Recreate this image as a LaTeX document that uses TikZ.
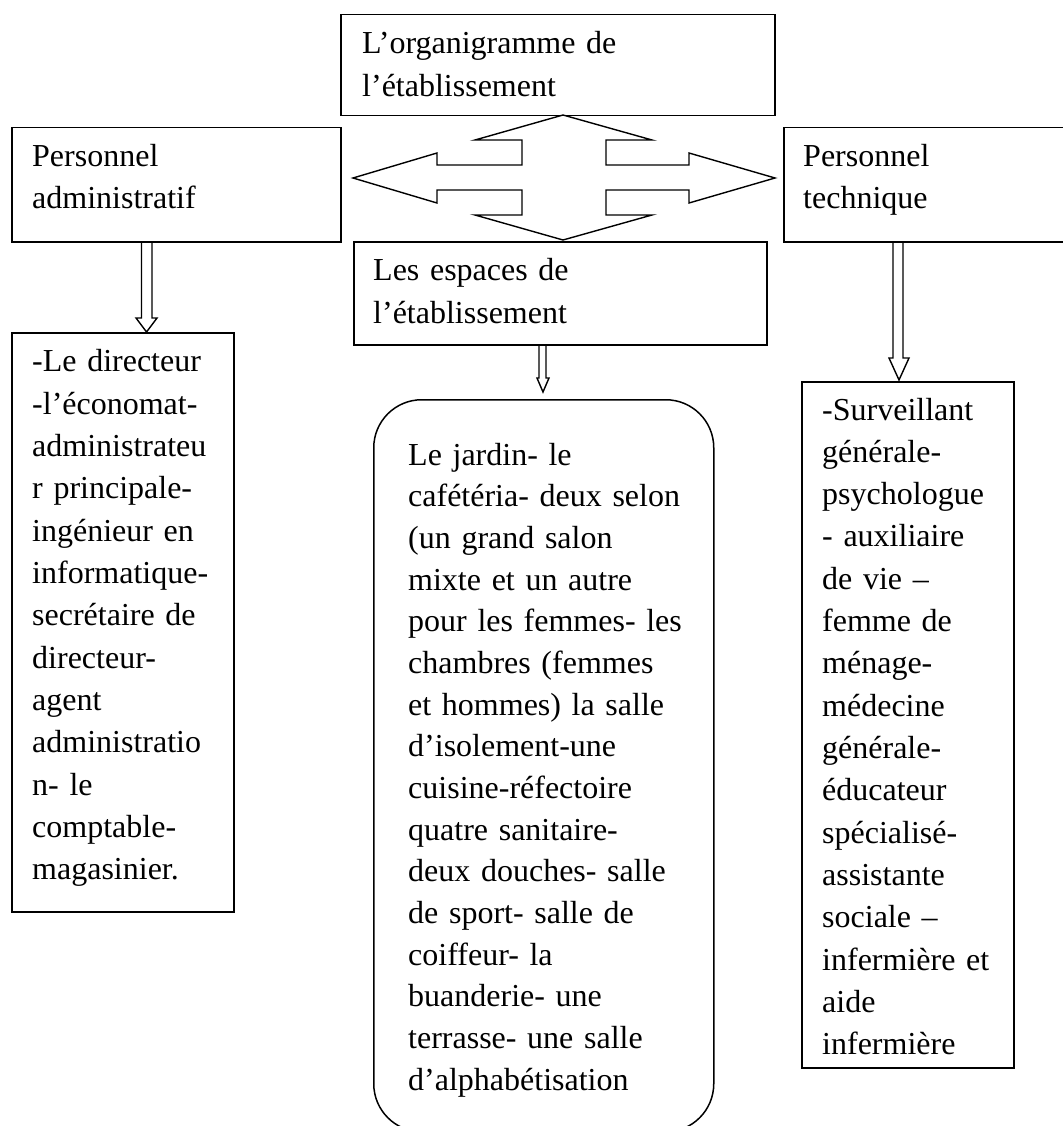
\documentclass[tikz,border=0pt]{standalone}
\usepackage{fontspec}
\setmainfont{Liberation Serif}
\usetikzlibrary{calc}
% #1 from, #2 to, #3 shaft left, #4 shaft right, #5 head left, #6 head right, #7 head length, #8 gap, #9 tip x
\newcommand\blockdown[9]{%
  \draw[blockarrow] let \p1=(#1.south), \p2=(#2.north) in
    (#3pt,\y1) -- (#3pt,\y2+#8pt+#7pt) -- (#5pt,\y2+#8pt+#7pt) -- (#9pt,\y2+#8pt)
    -- (#6pt,\y2+#8pt+#7pt) -- (#4pt,\y2+#8pt+#7pt) -- (#4pt,\y1);}
\begin{document}
\begin{tikzpicture}[x=1pt,y=-1pt,line join=miter,
  box/.style={draw, line width=1.5pt, inner sep=0pt, anchor=north west},
  txt/.style={inner sep=0pt, anchor=base west, align=left, font=\fontsize{32}{#1}\selectfont},
  txt/.default=42.5,
  blockarrow/.style={draw, line width=1.4pt},
  crossarrow/.style={draw, line width=1.4pt}]
\useasboundingbox (0,0) rectangle (1062,1126);

% boxes
\node[box, minimum width=434, minimum height=101] (org) at (340,14) {};
\node[box, minimum width=329, minimum height=114] (adm) at (11,127) {};
\node[box, minimum width=290, minimum height=114] (tech) at (783,127) {};
\node[box, minimum width=413, minimum height=103] (esp) at (353,241) {};
\node[box, minimum width=222, minimum height=579] (admlist) at (11,332) {};
\node[box, rounded corners=48pt, minimum width=340, minimum height=732] (jardin) at (373,399) {};
\node[box, minimum width=212, minimum height=686] (techlist) at (801,381) {};

% texts
\node[txt=43, text width=400] (orgt) at (362,54) {L’organigramme de\\l’établissement};
\node[txt=41.6, text width=300] (admt) at (32,166.7) {Personnel\\administratif};
\node[txt=41.6, text width=240] (techt) at (803,166.7) {Personnel\\technique};
\node[txt=43.3, text width=380] (espt) at (373,280) {Les espaces de\\l’établissement};
\node[txt=42.35, text width=200] (admlistt) at (32,371.7) {-Le directeur\\-l’économat-\\administrateu\\r principale-\\ingénieur en\\informatique-\\secrétaire de\\directeur-\\agent\\administratio\\n- le\\comptable-\\magasinier.};
\node[txt=41.67, text width=300] (jardint) at (408,465) {Le jardin- le\\cafétéria- deux selon\\(un grand salon\\mixte et un autre\\pour les femmes- les\\chambres (femmes\\et hommes) la salle\\d’isolement-une\\cuisine-réfectoire\\quatre sanitaire-\\deux douches- salle\\de sport- salle de\\coiffeur- la\\buanderie- une\\terrasse- une salle\\d’alphabétisation};
\node[txt=42.33, text width=190] (techlistt) at (822,420) {-Surveillant\\générale-\\psychologue\\- auxiliaire\\de vie –\\femme de\\ménage-\\médecine\\générale-\\éducateur\\spécialisé-\\assistante\\sociale –\\infermière et\\aide\\infermière};

% four-way arrow
\draw[crossarrow] (563,115) -- (652,140) -- (606,140) -- (606,165) -- (689,165) -- (689,153)
  -- (775,178) -- (689,203) -- (689,190) -- (606,190) -- (606,215) -- (652,215)
  -- (563,240) -- (475,215) -- (522,215) -- (522,190) -- (437,190) -- (437,203)
  -- (353,178) -- (437,153) -- (437,165) -- (522,165) -- (522,140) -- (475,140) -- cycle;

% down block arrows
\blockdown{adm}{admlist}{141.5}{152}{136}{157}{14}{0}{146.5}
\blockdown{esp}{jardin}{539}{546}{537}{549}{14}{7}{543}
\blockdown{tech}{techlist}{893}{903}{889}{909}{22}{1}{899}
\end{tikzpicture}
\end{document}
